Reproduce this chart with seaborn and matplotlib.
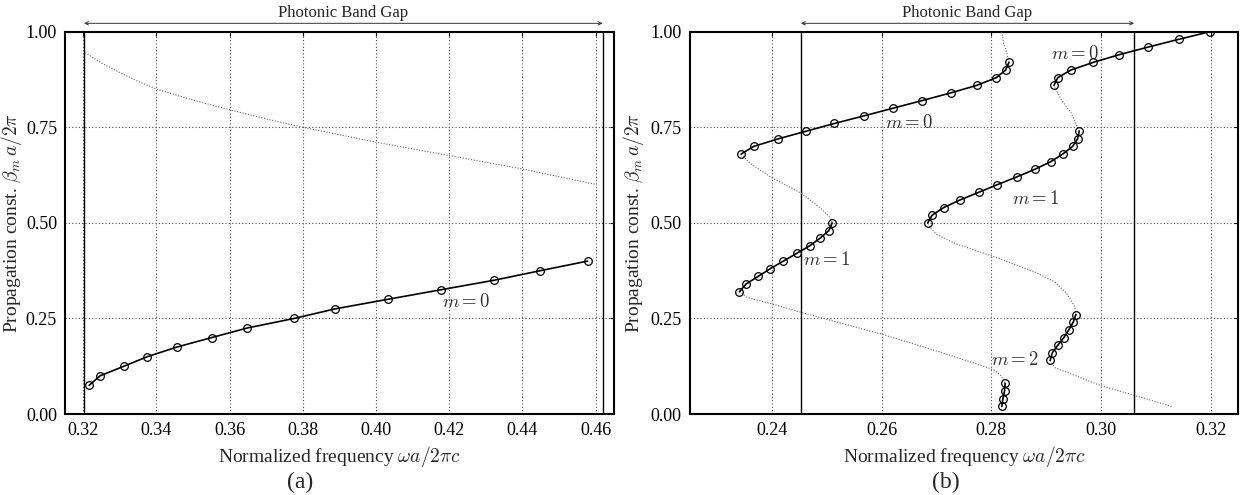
# plot.py - dispersion of guided modes inside the photonic band gap

import numpy as np
import pandas as pd
import seaborn as sns
import matplotlib.pyplot as plt

# ---- panel (a) data ----
a_m0_x = [0.3216, 0.3246, 0.3311, 0.3375, 0.3455, 0.3551, 0.3648, 0.3776,
          0.3888, 0.4032, 0.4177, 0.4323, 0.4449, 0.4578]
a_m0_y = [0.075, 0.100, 0.125, 0.150, 0.175, 0.200, 0.225, 0.250,
          0.275, 0.300, 0.325, 0.350, 0.375, 0.400]
a_dot_x = [0.3205, 0.3250, 0.3300, 0.3350, 0.3400, 0.3500, 0.3600, 0.3700,
           0.3800, 0.4000, 0.4200, 0.4400, 0.4598]
a_dot_y = [0.945, 0.918, 0.893, 0.870, 0.850, 0.821, 0.796, 0.772,
           0.750, 0.711, 0.676, 0.641, 0.601]
a_gap = [0.3202, 0.4619]
a_xticks = [0.32, 0.34, 0.36, 0.38, 0.40, 0.42, 0.44, 0.46]

# ---- panel (b) data: solid branches with markers ----
b_A_x = [0.2344, 0.2367, 0.2412, 0.2463, 0.2514, 0.2568, 0.2621, 0.2674,
         0.2726, 0.2774, 0.2809, 0.2826, 0.2832]
b_A_y = [0.68, 0.70, 0.72, 0.74, 0.76, 0.78, 0.80, 0.82, 0.84, 0.86, 0.88, 0.90, 0.92]
b_B_x = [0.2341, 0.2353, 0.2375, 0.2397, 0.2421, 0.2445, 0.2469, 0.2488, 0.2504, 0.2510]
b_B_y = [0.32, 0.34, 0.36, 0.38, 0.40, 0.42, 0.44, 0.46, 0.48, 0.50]
b_C_x = [0.2819, 0.2821, 0.2824, 0.2825]
b_C_y = [0.02, 0.04, 0.06, 0.08]
b_D_x = [0.2907, 0.2911, 0.2921, 0.2932, 0.2941, 0.2949, 0.2954]
b_D_y = [0.14, 0.16, 0.18, 0.20, 0.22, 0.24, 0.26]
b_E_x = [0.2684, 0.2692, 0.2713, 0.2743, 0.2777, 0.2811, 0.2846, 0.2879,
         0.2908, 0.2930, 0.2948, 0.2957, 0.2960]
b_E_y = [0.50, 0.52, 0.54, 0.56, 0.58, 0.60, 0.62, 0.64, 0.66, 0.68, 0.70, 0.72, 0.74]
b_F_x = [0.2914, 0.2921, 0.2945, 0.2986, 0.3033, 0.3086, 0.3141, 0.3198]
b_F_y = [0.86, 0.88, 0.90, 0.92, 0.94, 0.96, 0.98, 1.00]

# ---- panel (b) data: dotted connecting curves ----
b_d1_x = [0.2819, 0.2822, 0.2828, 0.2832]
b_d1_y = [1.00, 0.97, 0.945, 0.92]
b_d2_x = [0.2344, 0.2360, 0.2400, 0.2453, 0.2485, 0.2504, 0.2510]
b_d2_y = [0.68, 0.656, 0.618, 0.578, 0.543, 0.517, 0.50]
b_d3_x = [0.2341, 0.2355, 0.2400, 0.2453, 0.2600, 0.2700, 0.2780, 0.2805, 0.2818, 0.2825]
b_d3_y = [0.32, 0.305, 0.288, 0.266, 0.209, 0.165, 0.128, 0.115, 0.100, 0.08]
b_d4_x = [0.2907, 0.2916, 0.2945, 0.3000, 0.3060, 0.3131]
b_d4_y = [0.14, 0.121, 0.105, 0.074, 0.049, 0.019]
b_d5_x = [0.2954, 0.2952, 0.2938, 0.2916, 0.2880, 0.2808, 0.2736, 0.2700, 0.2688, 0.2684]
b_d5_y = [0.26, 0.28, 0.314, 0.345, 0.371, 0.410, 0.445, 0.470, 0.488, 0.50]
b_d6_x = [0.2960, 0.2945, 0.2927, 0.2914]
b_d6_y = [0.74, 0.788, 0.823, 0.86]
b_gap = [0.2453, 0.3060]
b_xticks = [0.24, 0.26, 0.28, 0.30, 0.32]

yticks = [0.00, 0.25, 0.50, 0.75, 1.00]

# ---- style ----
sns.set_style("white")
plt.rcParams['font.family'] = ['Liberation Serif', 'DejaVu Serif']
plt.rcParams['mathtext.fontset'] = 'cm'

fig = plt.figure(figsize=(12.4, 4.95), dpi=100)
ax_a = fig.add_axes([0.0527, 0.1636, 0.4427, 0.7723])
ax_b = fig.add_axes([0.5565, 0.1636, 0.4422, 0.7723])


def solid_branch(ax, x, y):
    sns.lineplot(x=x, y=y, sort=False, estimator=None, ax=ax, color='black',
                 linewidth=1.2, marker='o', markersize=5.5,
                 markerfacecolor='none', markeredgecolor='black',
                 markeredgewidth=0.9, legend=False, zorder=4)


def dotted_branch(ax, x, y):
    sns.lineplot(x=x, y=y, sort=False, estimator=None, ax=ax, color='0.4',
                 linewidth=0.8, linestyle=(0, (1, 1.5)), legend=False, zorder=3)


def frame(ax, xlim, xticks, gap, ylab_x):
    ax.set_xlim(*xlim)
    ax.set_ylim(0, 1)
    ax.set_xticks(xticks)
    ax.set_xticklabels([f"{t:.2f}" for t in xticks])
    ax.set_yticks(yticks)
    ax.set_yticklabels([f"{t:.2f}" for t in yticks])
    ax.grid(True, linestyle=(0, (1, 2)), color='0.3', linewidth=0.8)
    ax.tick_params(direction='in', length=3, labelsize=13, pad=6,
                   top=True, right=True, colors='black')
    for s in ax.spines.values():
        s.set_linewidth(1.5)
        s.set_color('black')
    for g in gap:
        ax.axvline(g, color='black', linewidth=1.0, zorder=2)
    ax.annotate('', xy=(gap[1], 1.022), xytext=(gap[0], 1.022),
                xycoords=('data', 'axes fraction'),
                arrowprops=dict(arrowstyle='<->', lw=0.7, color='0.2',
                                shrinkA=0, shrinkB=0, mutation_scale=6),
                annotation_clip=False)
    ax.text((gap[0] + gap[1]) / 2, 1.048, 'Photonic Band Gap',
            transform=ax.get_xaxis_transform(), ha='center', va='center',
            fontsize=12)
    ax.set_xlabel(r'Normalized frequency $\omega a/2\pi c$', fontsize=14)
    ax.set_ylabel(r'Propagation const. $\beta_m\, a/2\pi$', fontsize=14)
    ax.yaxis.set_label_coords(ylab_x, 0.5)
    ax.xaxis.labelpad = 3


# ---- panel (a) ----
frame(ax_a, (0.3151, 0.4651), a_xticks, a_gap, -0.075)
dotted_branch(ax_a, a_dot_x, a_dot_y)
solid_branch(ax_a, a_m0_x, a_m0_y)
ax_a.text(0.4181, 0.294, r'$m=0$', fontsize=13.5, ha='left', va='center', color='0.2')

# ---- panel (b) ----
frame(ax_b, (0.2251, 0.3250), b_xticks, b_gap, -0.080)
for dx, dy in [(b_d1_x, b_d1_y), (b_d2_x, b_d2_y), (b_d3_x, b_d3_y),
               (b_d4_x, b_d4_y), (b_d5_x, b_d5_y), (b_d6_x, b_d6_y)]:
    dotted_branch(ax_b, dx, dy)
for sx, sy in [(b_A_x, b_A_y), (b_B_x, b_B_y), (b_C_x, b_C_y),
               (b_D_x, b_D_y), (b_E_x, b_E_y), (b_F_x, b_F_y)]:
    solid_branch(ax_b, sx, sy)

b_labels = [(0.2607, 0.761, '0'), (0.2908, 0.943, '0'), (0.2837, 0.563, '1'),
            (0.2456, 0.404, '1'), (0.2800, 0.142, '2')]
for lx, ly, m in b_labels:
    ax_b.text(lx, ly, rf'$m={m}$', fontsize=13.5, ha='left', va='center', color='0.2')

fig.text(0.242, 0.026, '(a)', fontsize=17, ha='center', va='center')
fig.text(0.763, 0.026, '(b)', fontsize=17, ha='center', va='center')

fig.savefig('out.png', dpi=100)
